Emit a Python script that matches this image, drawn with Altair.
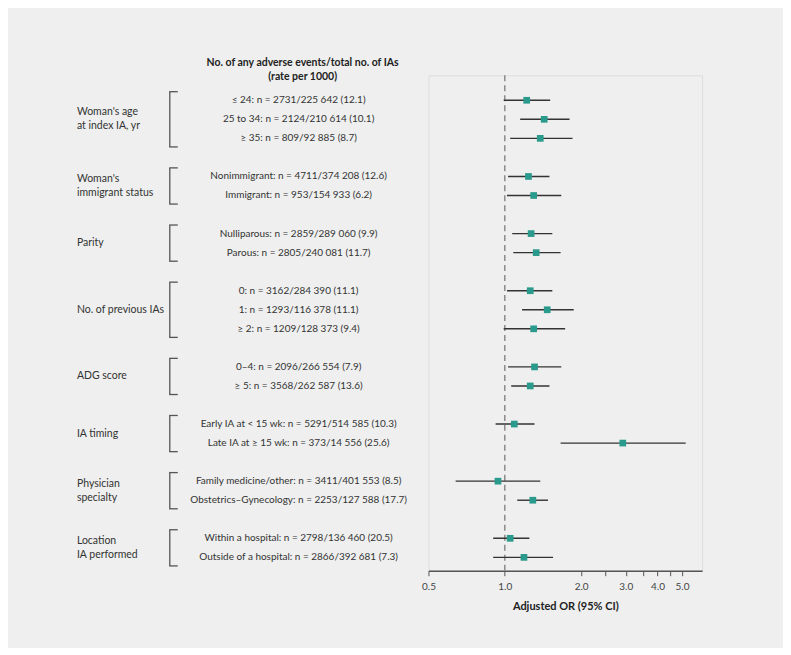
import altair as alt
import pandas as pd

# ---- data ----
group_names = [
    "Woman's age\nat index IA, yr",
    "Woman's\nimmigrant status",
    "Parity",
    "No. of previous IAs",
    "ADG score",
    "IA  timing",
    "Physician\nspecialty",
    "Location\nIA performed",
]
group_sizes = [3, 2, 2, 3, 2, 2, 2, 2]

row_labels = [
    "≤ 24: n = 2731/225 642 (12.1)",
    "25 to 34: n = 2124/210 614 (10.1)",
    "≥ 35: n = 809/92 885 (8.7)",
    "Nonimmigrant: n = 4711/374 208 (12.6)",
    "Immigrant: n = 953/154 933 (6.2)",
    "Nulliparous: n = 2859/289 060 (9.9)",
    "Parous: n = 2805/240 081 (11.7)",
    "0: n = 3162/284 390 (11.1)",
    "1: n = 1293/116 378 (11.1)",
    "≥ 2: n = 1209/128 373 (9.4)",
    "0–4: n = 2096/266 554 (7.9)",
    "≥ 5: n = 3568/262 587 (13.6)",
    "Early IA at < 15 wk: n = 5291/514 585 (10.3)",
    "Late IA at ≥ 15 wk: n = 373/14 556 (25.6)",
    "Family medicine/other: n = 3411/401 553 (8.5)",
    "Obstetrics–Gynecology: n = 2253/127 588 (17.7)",
    "Within a hospital: n = 2798/136 460 (20.5)",
    "Outside of a hospital: n = 2866/392 681 (7.3)",
]
or_vals = [1.22, 1.43, 1.38, 1.24, 1.30, 1.27, 1.33, 1.26, 1.47, 1.30,
           1.31, 1.26, 1.09, 2.92, 0.94, 1.29, 1.05, 1.19]
lo_vals = [0.99, 1.15, 1.05, 1.03, 1.02, 1.07, 1.08, 1.02, 1.17, 0.99,
           1.03, 1.06, 0.92, 1.66, 0.64, 1.12, 0.90, 0.90]
hi_vals = [1.51, 1.80, 1.85, 1.50, 1.67, 1.54, 1.66, 1.54, 1.87, 1.73,
           1.67, 1.50, 1.31, 5.17, 1.38, 1.48, 1.25, 1.55]

header_lines = ["No. of any adverse events/total no. of IAs", "(rate per  1000)"]
axis_title = "Adjusted OR (95%  CI)"
tick_values = [0.5, 1, 2, 2.5, 3, 3.5, 4, 4.5, 5]

# ---- build tables (row slots: one blank slot between groups) ----
LINE_STEP = 0.74  # one text line, in row-slot units
rows, groups, glines = [], [], []
slot = 0
k = 0
for gname, gsize in zip(group_names, group_sizes):
    first = slot
    for j in range(gsize):
        rows.append({"pos": slot, "label": row_labels[k], "or": or_vals[k],
                     "lo": lo_vals[k], "hi": hi_vals[k]})
        k += 1
        slot += 1
    last = slot - 1
    center = (first + last) / 2
    groups.append({"top": first - 0.45, "bot": last + 0.45})
    parts = gname.split("\n")
    for i, p in enumerate(parts):
        glines.append({"line": p,
                       "gpos": center + (i - (len(parts) - 1) / 2) * LINE_STEP})
    slot += 1

df = pd.DataFrame(rows)
gdf = pd.DataFrame(groups)
ldf = pd.DataFrame(glines)

y_scale = alt.Scale(domain=[-1.31, 24.7], reverse=True)
x_scale = alt.Scale(type="log", domain=[0.5, 6], nice=False)
x_axis = alt.Axis(
    values=tick_values,
    labelExpr="(datum.value == 2.5 || datum.value == 3.5 || datum.value == 4.5) ? '' : format(datum.value, '.1f')",
    grid=False, ticks=True, tickSize=5, tickColor="#555", domainColor="#555",
    domainWidth=1.5, labelFontSize=10, labelColor="#444", labelPadding=6,
    titleFontSize=11, titleFontWeight="bold", titleColor="#222", titlePadding=9,
    labelFlush=False,
)

ref = alt.Chart(pd.DataFrame({"v": [1.0]})).mark_rule(
    color="#8a8a8a", strokeDash=[6, 4], strokeWidth=1.5
).encode(x=alt.X("v:Q", scale=x_scale, axis=x_axis, title=axis_title))

ci = alt.Chart(df).mark_rule(color="#333", strokeWidth=1.4).encode(
    x=alt.X("lo:Q", scale=x_scale, axis=x_axis, title=axis_title),
    x2="hi:Q",
    y=alt.Y("pos:Q", scale=y_scale, axis=None),
)

pts = alt.Chart(df).mark_square(size=45, color="#2a9a8c", opacity=1).encode(
    x=alt.X("or:Q", scale=x_scale, axis=x_axis, title=axis_title),
    y=alt.Y("pos:Q", scale=y_scale, axis=None),
)

row_text = alt.Chart(df).mark_text(
    align="center", baseline="middle", fontSize=10, color="#333"
).encode(
    x=alt.value(-130),
    y=alt.Y("pos:Q", scale=y_scale, axis=None),
    text="label:N",
)

group_text = alt.Chart(ldf).mark_text(
    align="left", baseline="middle", fontSize=10.5, color="#333",
).encode(
    x=alt.value(-352),
    y=alt.Y("gpos:Q", scale=y_scale, axis=None),
    text="line:N",
)

br_v = alt.Chart(gdf).mark_rule(color="#555", strokeWidth=1.3).encode(
    x=alt.value(-259),
    y=alt.Y("top:Q", scale=y_scale, axis=None),
    y2="bot:Q",
)
br_t = alt.Chart(gdf).mark_rule(color="#555", strokeWidth=1.3).encode(
    x=alt.value(-259.6), x2=alt.value(-251),
    y=alt.Y("top:Q", scale=y_scale, axis=None),
)
br_b = alt.Chart(gdf).mark_rule(color="#555", strokeWidth=1.3).encode(
    x=alt.value(-259.6), x2=alt.value(-251),
    y=alt.Y("bot:Q", scale=y_scale, axis=None),
)

header = alt.Chart(pd.DataFrame({"h": [0]})).mark_text(
    text=header_lines, align="center", baseline="middle", fontSize=10.5,
    fontWeight="bold", color="#222", lineHeight=14,
).encode(x=alt.value(-126), y=alt.value(-12))

chart = alt.layer(
    ref, ci, pts, row_text, group_text, br_v, br_t, br_b, header
).properties(
    width=274, height=496,
    padding={"left": 421, "top": 67, "right": 81, "bottom": 77},
    autosize=alt.AutoSizeParams(type="none"),
    background="#eeefee",
).configure_view(
    stroke="#555", strokeWidth=1.5, fill="white"
).configure(font="Lato")

chart.save("out.html", embed_options={"renderer": "svg", "actions": False})
